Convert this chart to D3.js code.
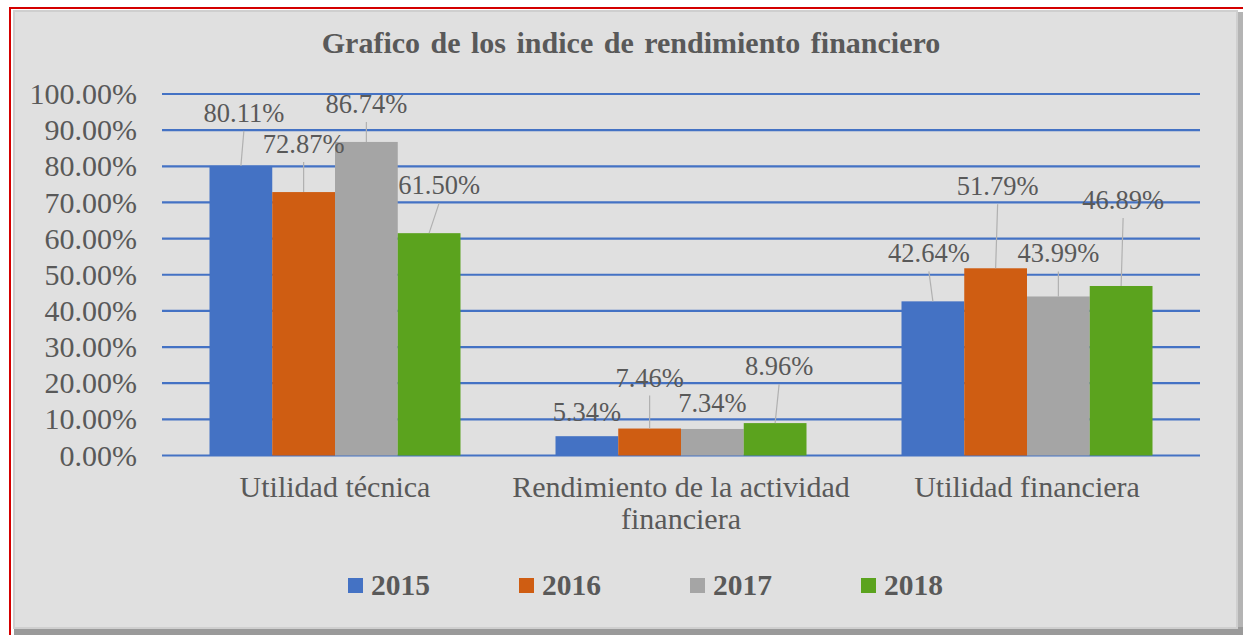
<!DOCTYPE html>
<html>
<head>
<meta charset="utf-8">
<script src="https://cdn.jsdelivr.net/npm/d3@7"></script>
<style>
  html, body { margin: 0; padding: 0; background: #ffffff; }
  svg text { font-family: "Liberation Serif", "Times New Roman", serif; fill: #595959; }
</style>
</head>
<body>
<div id="chart"></div>
<script>
(function(){

var categories = ["Utilidad técnica", "Rendimiento de la actividad financiera", "Utilidad financiera"]
var series = ["2015", "2016", "2017", "2018"]
var v2015 = [0.8011, 0.0534, 0.4264]
var v2016 = [0.7287, 0.0746, 0.5179]
var v2017 = [0.8674, 0.0734, 0.4399]
var v2018 = [0.6150, 0.0896, 0.4689]
var yTicks = [0, 0.1, 0.2, 0.3, 0.4, 0.5, 0.6, 0.7, 0.8, 0.9, 1.0]

var values = [v2015, v2016, v2017, v2018]
var colors = ["#4472C4", "#CF5D12", "#A5A5A5", "#5BA31E"]

// label nudges (px) per category / series, like the excel chart moved them
var labelNudge = [
	[[3,-53],[0,-48],[0,-38],[10,-48]],
	[[0,-24],[0,-51],[0,-26],[4,-57]],
	[[-4,-48],[2,-82],[0,-43],[2,-86]]
]

var W = 1243, H = 635
var margin = {top: 94, right: 43, bottom: 179.5, left: 162},
    width = W - margin.left - margin.right,
    height = H - margin.top - margin.bottom;

var svg = d3.select("#chart").append("svg")
	.attr("width", W)
	.attr("height", H)

// frame
svg.append("rect").attr("x", 0).attr("y", 0).attr("width", W).attr("height", H).style("fill", "#ffffff")
svg.append("rect").attr("x", 1235).attr("y", 12).attr("width", 8).attr("height", 623).style("fill", "#b4b4b4")
svg.append("rect").attr("x", 14).attr("y", 627).attr("width", 1229).attr("height", 8).style("fill", "#9a9a9a")
svg.append("rect").attr("x", 14).attr("y", 11).attr("width", 1223).attr("height", 617)
	.style("fill", "#e0e0e0").style("stroke", "#cfcfcf").style("stroke-width", 2)
svg.append("line").attr("x1", 9).attr("x2", W).attr("y1", 8).attr("y2", 8)
	.style("stroke", "#d40000").style("stroke-width", 2)
svg.append("line").attr("x1", 10).attr("x2", 10).attr("y1", 7).attr("y2", H)
	.style("stroke", "#d40000").style("stroke-width", 2)

svg.append("text")
	.text("Grafico de los indice de rendimiento financiero")
	.attr("x", 631).attr("y", 53)
	.style("text-anchor", "middle")
	.style("font-size", "30px")
	.style("font-weight", "bold")
	.style("word-spacing", "3px")

var plot = svg.append("g")
	.attr("transform", "translate(" + margin.left + "," + margin.top + ")")

var y = d3.scaleLinear().domain([0, 1]).range([height, 0])
var x0 = d3.scaleBand().domain(categories).range([0, width]).paddingInner(0.2746).paddingOuter(0.1373)
var x1 = d3.scaleBand().domain(series).range([0, x0.bandwidth()]).padding(0)

var fo = d3.format(".2%")

// gridlines
plot.selectAll(".grid").data(yTicks).enter().append("line")
	.attr("class", "grid")
	.attr("x1", 0).attr("x2", width)
	.attr("y1", function(d){return y(d)}).attr("y2", function(d){return y(d)})
	.style("stroke", "#4472C4").style("stroke-width", 2.2)

// y axis labels
var yAxis = plot.append("g")
	.call(d3.axisLeft(y).tickValues(yTicks).tickFormat(fo).tickSize(0).tickPadding(25))
yAxis.select(".domain").remove()
yAxis.selectAll("text")
	.style("font-size", "30px")
	.style("font-family", "Liberation Serif, serif")
	.style("fill", "#595959")

var bars = []
categories.forEach(function(c, ci){
	series.forEach(function(s, si){
		bars.push({cat: c, ci: ci, s: s, si: si, v: values[si][ci]})
	})
})

var group = plot.selectAll(".cat").data(categories).enter().append("g")
	.attr("class", "cat")
	.attr("transform", function(d){return "translate(" + x0(d) + ",0)"})

group.selectAll("rect")
	.data(function(c){return bars.filter(function(b){return b.cat == c})})
	.enter().append("rect")
	.attr("x", function(d){return x1(d.s)})
	.attr("width", x1.bandwidth())
	.attr("y", function(d){return y(d.v)})
	.attr("height", function(d){return height - y(d.v)})
	.style("fill", function(d){return colors[d.si]})

// data labels and leader lines
group.selectAll(".lbl")
	.data(function(c){return bars.filter(function(b){return b.cat == c})})
	.enter().each(function(d){
		var g = d3.select(this)
		var n = labelNudge[d.ci][d.si]
		var bx = x1(d.s) + x1.bandwidth()/2
		var by = y(d.v)
		var lx = bx + n[0], ly = by + n[1]
		if (n[1] < -30) {
			g.append("line")
				.attr("x1", bx).attr("y1", by)
				.attr("x2", lx).attr("y2", ly + 18)
				.style("stroke", "#b0b0b0").style("stroke-width", 1.2)
		}
		g.append("text")
			.text(fo(d.v))
			.attr("x", lx).attr("y", ly + 9)
			.style("text-anchor", "middle")
			.style("font-size", "26.5px")
	})

// category labels
plot.selectAll(".catlabel").data(categories).enter().append("text")
	.attr("class", "catlabel")
	.attr("x", function(d){return x0(d) + x0.bandwidth()/2})
	.attr("y", height + 41)
	.style("text-anchor", "middle")
	.style("font-size", "30px")
	.each(function(d){
		var t = d3.select(this)
		var words = d.split(" ")
		var line = [], lineNo = 0
		var tspan = t.append("tspan").attr("x", t.attr("x")).attr("dy", 0)
		words.forEach(function(w){
			line.push(w)
			tspan.text(line.join(" "))
			if (tspan.node().getComputedTextLength() > 360 && line.length > 1) {
				line.pop()
				tspan.text(line.join(" "))
				line = [w]
				lineNo++
				tspan = t.append("tspan").attr("x", t.attr("x")).attr("dy", 32).text(w)
			}
		})
	})

// legend
var legend = svg.selectAll(".legend").data(series).enter().append("g")
	.attr("class", "legend")
	.attr("transform", function(d, i){return "translate(" + (348 + i*171) + ",578)"})

legend.append("rect")
	.attr("width", 15).attr("height", 15)
	.style("fill", function(d, i){return colors[i]})

legend.append("text")
	.text(function(d){return d})
	.attr("x", 23).attr("y", 17)
	.style("font-size", "29.5px")
	.style("font-weight", "bold")

})()
</script>
</body>
</html>
